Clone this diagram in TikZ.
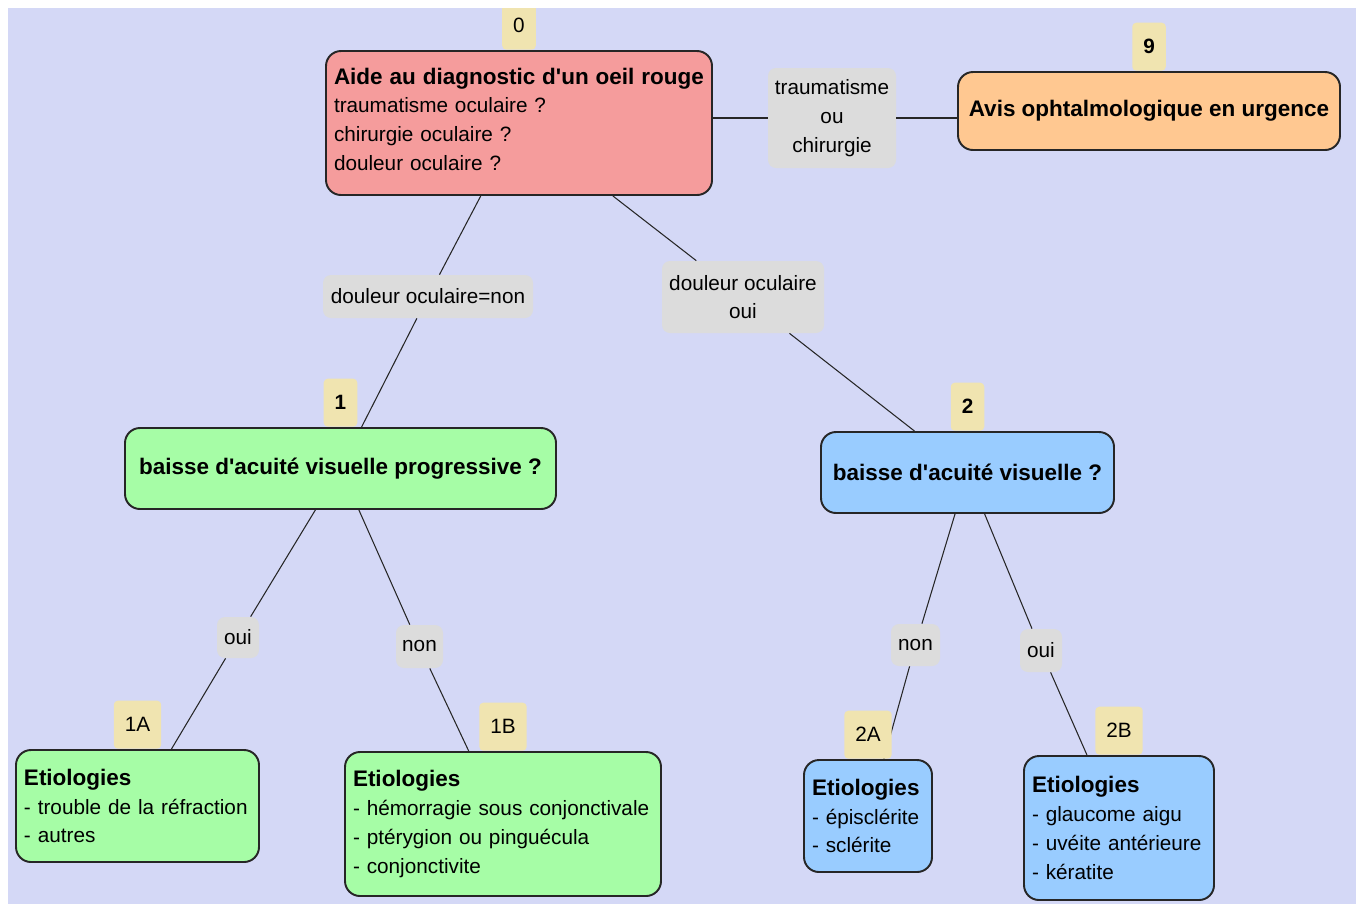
\documentclass[tikz,border=0pt]{standalone}
\usepackage{fontspec}
\setmainfont{Liberation Sans}
\usetikzlibrary{positioning}
\definecolor{canvas}{RGB}{212,216,246}
\definecolor{rootred}{RGB}{245,156,156}
\definecolor{urgorange}{RGB}{255,200,145}
\definecolor{progreen}{RGB}{166,253,166}
\definecolor{acublue}{RGB}{153,204,255}
\definecolor{condgrey}{RGB}{220,220,220}
\definecolor{tagyellow}{RGB}{240,228,176}
\newcommand\boxhead[1]{{\fontsize{12.8}{16.4}\selectfont\bfseries #1}}
\tikzset{
  wire/.style={black!85,line width=0.6pt},
  question/.style={draw=black!85,line width=1.1pt,rounded corners=3mm,
                   inner xsep=1.6mm,inner ysep=0pt,font=\fontsize{11.8}{16.4}\selectfont},
  rootq/.style={question,fill=rootred,align=left},
  urgent/.style={question,fill=urgorange,align=center,font=\fontsize{12.8}{16.4}\selectfont\bfseries},
  progq/.style={question,fill=progreen,align=center,font=\fontsize{12.8}{16.4}\selectfont\bfseries},
  acuq/.style={question,fill=acublue,align=center,font=\fontsize{12.8}{16.4}\selectfont\bfseries},
  cause/.style={question,align=left},
  cond/.style={fill=condgrey,rounded corners=1.6mm,inner sep=0pt,align=center,
               font=\fontsize{11.8}{16.4}\selectfont},
  tag/.style={fill=tagyellow,rounded corners=0.8mm,inner xsep=2.2mm,inner ysep=0pt,
              minimum width=6.6mm,minimum height=9.6mm,font=\fontsize{11.8}{14}\selectfont},
}
\begin{document}
\begin{tikzpicture}[x=0.2mm,y=-0.2mm]
  \useasboundingbox (0,0) rectangle (1356,904);
  \fill[canvas] (8,8) rectangle (1356,904);
  \clip (8,8) rectangle (1356,904);

  % questions
  \node[rootq,text width=74mm,minimum height=28.8mm] (N0) at (519,123)
    {\boxhead{Aide au diagnostic d\textquotesingle un oeil rouge}\\
     traumatisme oculaire ?\\
     chirurgie oculaire ?\\
     douleur oculaire ?\\[-4.2mm]\mbox{}};
  \node[urgent,minimum width=76.4mm,minimum height=15.6mm] (N9) at (1149,111)
    {Avis ophtalmologique en urgence};
  \node[progq,minimum width=86.2mm,minimum height=16.2mm] (N1) at (340.5,468.5)
    {baisse d\textquotesingle acuité visuelle progressive ?};
  \node[acuq,minimum width=58.6mm,minimum height=16.2mm] (N2) at (967.5,472.5)
    {baisse d\textquotesingle acuité visuelle ?};

  % etiologies
  \node[cause,fill=progreen,text width=45.4mm,minimum height=22.4mm] (N1A) at (137.5,806)
    {\boxhead{Etiologies}\\
     - trouble de la réfraction\\
     - autres};
  \node[cause,fill=progreen,text width=60mm,minimum height=28.8mm] (N1B) at (503,824)
    {\boxhead{Etiologies}\\
     - hémorragie sous conjonctivale\\
     - ptérygion ou pinguécula\\
     - conjonctivite};
  \node[cause,fill=acublue,text width=22.4mm,minimum height=22.4mm] (N2A) at (868,816)
    {\boxhead{Etiologies}\\
     - épisclérite\\
     - sclérite};
  \node[cause,fill=acublue,text width=34.8mm,minimum height=28.8mm] (N2B) at (1119,828)
    {\boxhead{Etiologies}\\
     - glaucome aigu\\
     - uvéite antérieure\\
     - kératite};

  % conditions
  \node[cond,minimum width=25.6mm,minimum height=20mm] (LT) at (832,118)
    {traumatisme\\ou\\chirurgie};
  \node[cond,minimum width=42mm,minimum height=8.6mm] (CA) at (428,296.5)
    {douleur oculaire=non};
  \node[cond,minimum width=32.4mm,minimum height=14.4mm] (CB) at (743,297)
    {douleur oculaire\\oui};
  \node[cond,minimum width=8.4mm,minimum height=8.2mm] (Y1) at (238,637.5) {oui};
  \node[cond,minimum width=9.4mm,minimum height=8.6mm] (X1) at (419.5,646.5) {non};
  \node[cond,minimum width=9.8mm,minimum height=8.4mm] (X2) at (915.5,645) {non};
  \node[cond,minimum width=8.4mm,minimum height=8.6mm] (Y2) at (1041,650.5) {oui};

  \draw[wire] (N0.east |- LT.west) -- (LT.west);
  \draw[wire] (LT.east) -- (N9.west |- LT.east);
  \draw[wire] (N0) -- (CA) -- (N1);
  \draw[wire] (N0) -- (CB) -- (N2);
  \draw[wire] (N1) -- (Y1) -- (N1A);
  \draw[wire] (N1) -- (X1) -- (N1B);
  \draw[wire] (N2) -- (X2) -- (N2A);
  \draw[wire] (N2) -- (Y2) -- (N2B);

  % numbers
  \node[tag,above=0pt of N0] (T0) {0};
  \node[tag,above=0pt of N9] (T9) {\textbf{9}};
  \node[tag,above=0pt of N1] (T1) {\textbf{1}};
  \node[tag,above=0pt of N2] (T2) {\textbf{2}};
  \node[tag,above=0pt of N1A] (T1A) {1A};
  \node[tag,above=0pt of N1B] (T1B) {1B};
  \node[tag,above=0pt of N2A] (T2A) {2A};
  \node[tag,above=0pt of N2B] (T2B) {2B};
\end{tikzpicture}
\end{document}
